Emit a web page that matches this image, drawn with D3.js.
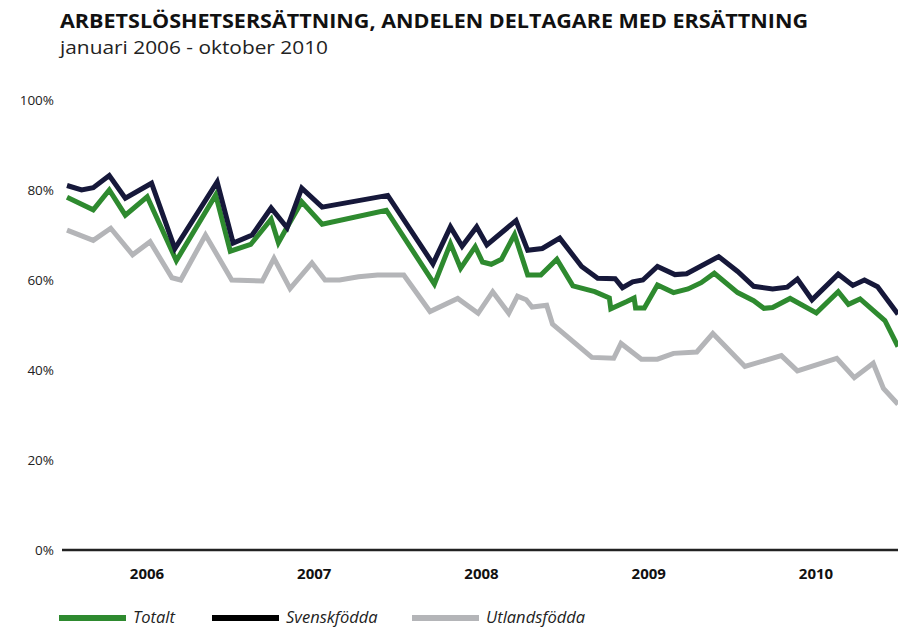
<!DOCTYPE html>
<html>
<head>
<meta charset="utf-8">
<script src="https://cdn.jsdelivr.net/npm/d3@7"></script>
<style>
  body { margin: 0; background: #fff; }
  svg { display: block; font-family: "Open Sans", sans-serif; }
</style>
</head>
<body>
<div id="graph"></div>
<script>
// month offset from januari 2006, share in percent
var totalt = [
  [0,78.4],[1.8,75.6],[2.9,80.0],[4.0,74.4],[5.5,78.5],[7.5,64.3],[10.2,78.9],[11.2,66.4],
  [12.6,67.9],[14.0,73.5],[14.5,68.3],[14.9,70.6],[16.1,77.4],[17.5,72.4],[21.9,75.5],
  [25.2,59.1],[26.3,68.1],[27.0,62.6],[28.0,67.4],[28.5,64.0],[29.1,63.5],[29.8,64.6],
  [30.7,70.1],[31.6,61.1],[32.5,61.1],[33.6,64.6],[34.7,58.7],[36.2,57.4],[37.2,56.0],
  [37.3,53.6],[38.4,55.2],[38.9,56.0],[39.0,53.8],[39.6,53.8],[40.5,58.9],[41.6,57.2],
  [42.6,58.0],[43.5,59.4],[44.4,61.5],[46.0,57.2],[47.1,55.4],[47.8,53.7],[48.4,53.9],
  [49.6,55.9],[51.4,52.7],[52.9,57.4],[53.6,54.6],[54.4,55.8],[56.1,51.0],[57,45.2]
];
var svenskfodda = [
  [0,81.0],[1.0,80.0],[1.8,80.5],[2.9,83.2],[4.0,78.2],[5.8,81.5],[7.4,67.0],[10.3,81.8],
  [11.4,68.2],[12.7,70.0],[14.0,76.0],[15.1,71.6],[16.1,80.4],[17.5,76.2],[22.0,78.8],
  [25.1,63.6],[26.3,71.8],[27.1,67.5],[28.1,71.8],[28.8,67.8],[30.8,73.2],[31.6,66.6],
  [32.6,67.0],[33.8,69.3],[35.3,63.0],[36.4,60.4],[37.6,60.3],[38.1,58.3],[38.8,59.6],
  [39.5,60.0],[40.5,63.0],[41.7,61.2],[42.5,61.4],[44.7,65.2],[46.0,61.9],[47.1,58.6],
  [48.4,58.0],[49.4,58.4],[50.1,60.2],[51.1,55.6],[52.9,61.3],[53.9,58.8],[54.7,60.0],
  [55.6,58.5],[57,52.4]
];
var utlandsfodda = [
  [0,71.1],[1.8,68.8],[3.0,71.5],[4.5,65.6],[5.7,68.5],[7.2,60.5],[7.8,60.0],[9.5,70.0],
  [11.3,60.0],[13.4,59.8],[14.2,64.8],[15.3,58.1],[16.8,63.8],[17.7,60.0],[18.7,60.0],
  [20.0,60.7],[21.3,61.1],[23.1,61.1],[24.9,53.0],[26.8,55.9],[28.2,52.6],[29.2,57.4],
  [30.3,52.6],[30.9,56.4],[31.5,55.6],[31.9,54.0],[32.9,54.4],[33.3,50.2],[34.4,47.2],
  [36.0,42.8],[37.5,42.6],[38.0,45.9],[39.4,42.4],[40.5,42.4],[41.6,43.7],[43.2,44.0],
  [44.3,48.1],[46.5,40.8],[49.0,43.2],[50.1,39.8],[52.8,42.6],[54.0,38.3],[55.3,41.5],
  [56.0,35.9],[57,32.4]
];
var years = ["2006", "2007", "2008", "2009", "2010"];
var yTicks = [0, 20, 40, 60, 80, 100];

var series = [
  {name: "Utlandsfödda", values: utlandsfodda, color: "#b4b5b8", legend: "#b4b5b8"},
  {name: "Totalt", values: totalt, color: "#2e8a2f", legend: "#2e8a2f"},
  {name: "Svenskfödda", values: svenskfodda, color: "#16183a", legend: "#000000"}
];

var width = 898, height = 627;

var svg = d3.select("#graph").append("svg")
    .attr("width", width)
    .attr("height", height);

var x = d3.scaleLinear().domain([0, 57]).range([67, 898]);
var y = d3.scaleLinear().domain([0, 100]).range([550, 100]);
var xYear = d3.scalePoint().domain(years).range([147, 816]);

// title
svg.append("text")
    .attr("x", 60).attr("y", 28)
    .attr("font-size", 19).attr("font-weight", "bold").attr("fill", "#111")
    .attr("textLength", 748).attr("lengthAdjust", "spacingAndGlyphs")
    .text("ARBETSLÖSHETSERSÄTTNING, ANDELEN DELTAGARE MED ERSÄTTNING");
svg.append("text")
    .attr("x", 60).attr("y", 54)
    .attr("font-size", 18.5).attr("fill", "#222")
    .attr("textLength", 268).attr("lengthAdjust", "spacingAndGlyphs")
    .text("januari 2006 - oktober 2010");

// y labels
svg.append("g").selectAll("text")
    .data(yTicks)
    .enter().append("text")
    .attr("x", 54)
    .attr("y", function(d){ return y(d); })
    .attr("dy", "0.35em")
    .attr("text-anchor", "end")
    .attr("font-size", 13.5)
    .attr("fill", "#222")
    .text(function(d){ return d + "%"; });

// baseline
svg.append("line")
    .attr("x1", 62).attr("x2", 898)
    .attr("y1", y(0)).attr("y2", y(0))
    .attr("stroke", "#222").attr("stroke-width", 2.5);

// year labels
svg.append("g").selectAll("text")
    .data(years)
    .enter().append("text")
    .attr("x", function(d){ return xYear(d); })
    .attr("y", 579)
    .attr("text-anchor", "middle")
    .attr("font-size", 15).attr("font-weight", "bold").attr("fill", "#111")
    .text(function(d){ return d; });

// lines
var line = d3.line()
    .x(function(d){ return x(d[0]); })
    .y(function(d){ return y(d[1]); });

svg.append("g").selectAll("path")
    .data(series)
    .enter().append("path")
    .attr("d", function(d){ return line(d.values); })
    .attr("fill", "none")
    .attr("stroke", function(d){ return d.color; })
    .attr("stroke-width", 5)
    .attr("stroke-linejoin", "miter");

// legend
var legendItems = [
  {s: series[1], x: 59},
  {s: series[2], x: 212},
  {s: series[0], x: 412}
];
var lg = svg.append("g").selectAll("g")
    .data(legendItems)
    .enter().append("g")
    .attr("transform", function(d){ return "translate(" + d.x + ",618)"; });
lg.append("rect")
    .attr("x", 0).attr("y", -3).attr("width", 67).attr("height", 6)
    .attr("fill", function(d){ return d.s.legend; });
lg.append("text")
    .attr("x", 74).attr("y", 5)
    .attr("font-size", 16.5).attr("font-style", "italic").attr("fill", "#222")
    .text(function(d){ return d.s.name; });
</script>
</body>
</html>
